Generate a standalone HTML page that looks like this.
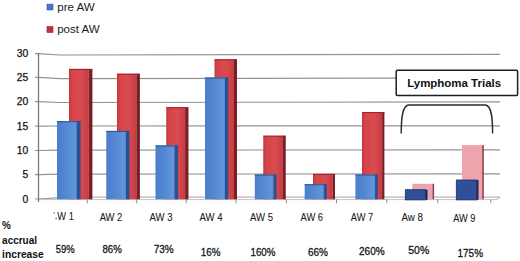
<!DOCTYPE html>
<html><head><meta charset="utf-8"><style>
html,body{margin:0;padding:0;background:#fff;width:520px;height:261px;overflow:hidden}
svg{display:block}
text{font-family:"Liberation Sans",sans-serif;fill:#111}
.yl{font-size:10.3px;fill:#111;stroke:#111;stroke-width:0.25px}
.xl{font-size:10.3px;fill:#1a1a1a;stroke:#1a1a1a;stroke-width:0.08px}
.pl{font-size:11px;fill:#151515;stroke:#151515;stroke-width:0.3px}
.bl{font-size:11.4px;font-weight:bold;fill:#111}
.lg{font-size:10.8px;fill:#1a1a1a}
.ly{font-size:11.6px;font-weight:bold;fill:#111}
</style></head><body>
<svg width="520" height="261" viewBox="0 0 520 261">
<defs>
<linearGradient id="gb" x1="0" x2="1" y1="0" y2="0">
<stop offset="0" stop-color="#4a7ecb"/><stop offset="0.5" stop-color="#5589d3"/><stop offset="0.9" stop-color="#6096dc"/><stop offset="1" stop-color="#5088d2"/>
</linearGradient>
<linearGradient id="gr" x1="0" x2="1" y1="0" y2="0">
<stop offset="0" stop-color="#c4363f"/><stop offset="0.15" stop-color="#d4444a"/><stop offset="0.6" stop-color="#da4b4f"/><stop offset="1" stop-color="#c43c43"/>
</linearGradient>
</defs>
<polyline points="35,53.6 38.5,53.6 60,55 500,54.3" fill="none" stroke="#929292" stroke-width="1.2"/>
<polyline points="35,77.4 38.5,77.4 60,78.7 500,77.9" fill="none" stroke="#929292" stroke-width="1.2"/>
<polyline points="35,101.7 38.5,101.7 60,102.5 500,101.9" fill="none" stroke="#929292" stroke-width="1.2"/>
<polyline points="35,126.2 38.5,126.2 60,126 500,125.8" fill="none" stroke="#929292" stroke-width="1.2"/>
<polyline points="35,150.5 38.5,150.5 60,150.2 500,149.8" fill="none" stroke="#929292" stroke-width="1.2"/>
<polyline points="35,174.7 38.5,174.7 60,174.2 500,173.8" fill="none" stroke="#929292" stroke-width="1.2"/>
<polyline points="35,199 38.5,199 57,197.8" fill="none" stroke="#9a9a9a" stroke-width="1.2"/>
<line x1="57" y1="197.1" x2="500" y2="197.1" stroke="#a4a4a4" stroke-width="1"/>
<line x1="38.5" y1="199.6" x2="497" y2="199.6" stroke="#c4c4c4" stroke-width="1"/>
<polyline points="497,199.6 500,197.1" fill="none" stroke="#b0b0b0" stroke-width="1"/>
<line x1="38.5" y1="53" x2="38.5" y2="202" stroke="#7a7a7a" stroke-width="1.3"/>
<line x1="87.3" y1="199.3" x2="87.3" y2="203.3" stroke="#8a8a8a" stroke-width="1"/>
<line x1="136.7" y1="199.3" x2="136.7" y2="203.3" stroke="#8a8a8a" stroke-width="1"/>
<line x1="186.2" y1="199.3" x2="186.2" y2="203.3" stroke="#8a8a8a" stroke-width="1"/>
<line x1="236" y1="199.3" x2="236" y2="203.3" stroke="#8a8a8a" stroke-width="1"/>
<line x1="286.4" y1="199.3" x2="286.4" y2="203.3" stroke="#8a8a8a" stroke-width="1"/>
<line x1="336.5" y1="199.3" x2="336.5" y2="203.3" stroke="#8a8a8a" stroke-width="1"/>
<line x1="386.8" y1="199.3" x2="386.8" y2="203.3" stroke="#8a8a8a" stroke-width="1"/>
<line x1="437.8" y1="199.3" x2="437.8" y2="203.3" stroke="#8a8a8a" stroke-width="1"/>
<line x1="490.8" y1="199.3" x2="490.8" y2="203.3" stroke="#8a8a8a" stroke-width="1"/>
<rect x="69" y="68.9" width="19.6" height="130.4" fill="url(#gr)"/><rect x="88.6" y="68.9" width="3.8" height="130.4" fill="#7c1c24"/><rect x="69" y="68.9" width="23.4" height="1" fill="#98262e"/>
<rect x="117" y="73.7" width="19.35" height="125.6" fill="url(#gr)"/><rect x="136.35" y="73.7" width="3.55" height="125.6" fill="#7c1c24"/><rect x="117" y="73.7" width="22.9" height="1" fill="#98262e"/>
<rect x="166.25" y="107.2" width="18.9" height="92.1" fill="url(#gr)"/><rect x="185.15" y="107.2" width="3.3" height="92.1" fill="#7c1c24"/><rect x="166.25" y="107.2" width="22.2" height="1" fill="#98262e"/>
<rect x="214.5" y="59.3" width="19.45" height="140" fill="url(#gr)"/><rect x="233.95" y="59.3" width="3.05" height="140" fill="#7c1c24"/><rect x="214.5" y="59.3" width="22.5" height="1" fill="#98262e"/>
<rect x="263.25" y="135.7" width="19.7" height="63.6" fill="url(#gr)"/><rect x="282.95" y="135.7" width="2.8" height="63.6" fill="#7c1c24"/><rect x="263.25" y="135.7" width="22.5" height="1" fill="#98262e"/>
<rect x="313" y="173.9" width="19.45" height="25.4" fill="url(#gr)"/><rect x="332.45" y="173.9" width="2.55" height="25.4" fill="#7c1c24"/><rect x="313" y="173.9" width="22" height="1" fill="#98262e"/>
<rect x="362" y="112" width="20.1" height="87.3" fill="url(#gr)"/><rect x="382.1" y="112" width="2.3" height="87.3" fill="#7c1c24"/><rect x="362" y="112" width="22.4" height="1" fill="#98262e"/>
<rect x="412.3" y="183.8" width="20.2" height="15.5" fill="#eda4ac"/>
<rect x="432.5" y="183.8" width="1.6" height="15.5" fill="#8c3c46"/>
<rect x="462" y="145.1" width="20.2" height="54.2" fill="#eda4ac"/>
<rect x="482.2" y="145.1" width="1.6" height="54.2" fill="#8c3c46"/>
<rect x="57" y="121.2" width="19.9" height="78.1" fill="url(#gb)"/><rect x="76.9" y="121.2" width="3.7" height="78.1" fill="#2a5192"/><rect x="57" y="121.2" width="23.6" height="1" fill="#2c5295"/>
<rect x="106.25" y="130.9" width="19.72" height="68.4" fill="url(#gb)"/><rect x="125.97" y="130.9" width="3.53" height="68.4" fill="#2a5192"/><rect x="106.25" y="130.9" width="23.25" height="1" fill="#2c5295"/>
<rect x="155.5" y="145.45" width="19.24" height="53.85" fill="url(#gb)"/><rect x="174.74" y="145.45" width="3.36" height="53.85" fill="#2a5192"/><rect x="155.5" y="145.45" width="22.6" height="1" fill="#2c5295"/>
<rect x="205" y="77.55" width="20.01" height="121.75" fill="url(#gb)"/><rect x="225.01" y="77.55" width="3.19" height="121.75" fill="#2a5192"/><rect x="205" y="77.55" width="23.2" height="1" fill="#2c5295"/>
<rect x="254.8" y="174.55" width="18.78" height="24.75" fill="url(#gb)"/><rect x="273.58" y="174.55" width="3.02" height="24.75" fill="#2a5192"/><rect x="254.8" y="174.55" width="21.8" height="1" fill="#2c5295"/>
<rect x="304.7" y="184.25" width="19.25" height="15.05" fill="url(#gb)"/><rect x="323.95" y="184.25" width="2.85" height="15.05" fill="#2a5192"/><rect x="304.7" y="184.25" width="22.1" height="1" fill="#2c5295"/>
<rect x="355.4" y="174.55" width="19.72" height="24.75" fill="url(#gb)"/><rect x="375.12" y="174.55" width="2.68" height="24.75" fill="#2a5192"/><rect x="355.4" y="174.55" width="22.4" height="1" fill="#2c5295"/>
<rect x="405.3" y="189.7" width="20.4" height="10.2" fill="#2f4f98" stroke="#1c2f66" stroke-width="0.8"/>
<rect x="425.7" y="189.7" width="1.8" height="10.2" fill="#1a2858"/>
<rect x="456.3" y="180" width="20.4" height="19.9" fill="#2f4f98" stroke="#1c2f66" stroke-width="0.8"/>
<rect x="476.7" y="180" width="1.8" height="19.9" fill="#1a2858"/>
<text x="28.2" y="57.2" text-anchor="end" class="yl">30</text>
<text x="28.2" y="81" text-anchor="end" class="yl">25</text>
<text x="28.2" y="105.3" text-anchor="end" class="yl">20</text>
<text x="28.2" y="129.8" text-anchor="end" class="yl">15</text>
<text x="28.2" y="154.1" text-anchor="end" class="yl">10</text>
<text x="28.2" y="178.3" text-anchor="end" class="yl">5</text>
<text x="28.2" y="202.6" text-anchor="end" class="yl">0</text>
<text x="57.3" y="219.9" textLength="16.5" lengthAdjust="spacingAndGlyphs" class="xl">W 1</text>
<text x="99.7" y="220.6" textLength="22.6" lengthAdjust="spacingAndGlyphs" class="xl">AW 2</text>
<text x="149.5" y="220.7" textLength="23" lengthAdjust="spacingAndGlyphs" class="xl">AW 3</text>
<text x="199.5" y="220.7" textLength="23" lengthAdjust="spacingAndGlyphs" class="xl">AW 4</text>
<text x="250" y="220.8" textLength="23" lengthAdjust="spacingAndGlyphs" class="xl">AW 5</text>
<text x="300.5" y="220.8" textLength="22.5" lengthAdjust="spacingAndGlyphs" class="xl">AW 6</text>
<text x="350.8" y="221.1" textLength="22.4" lengthAdjust="spacingAndGlyphs" class="xl">AW 7</text>
<text x="401.5" y="221.1" textLength="21.5" lengthAdjust="spacingAndGlyphs" class="xl">Aw 8</text>
<text x="453.2" y="221.9" textLength="22.2" lengthAdjust="spacingAndGlyphs" class="xl">AW 9</text>
<rect x="53.7" y="212.2" width="1.1" height="1.3" fill="#555"/>
<rect x="55.6" y="217.8" width="1.1" height="1.4" fill="#444"/>
<text x="55.7" y="252.6" textLength="18.9" lengthAdjust="spacingAndGlyphs" class="pl">59%</text>
<text x="102.5" y="252.6" textLength="19.3" lengthAdjust="spacingAndGlyphs" class="pl">86%</text>
<text x="153.75" y="252.5" textLength="20" lengthAdjust="spacingAndGlyphs" class="pl">73%</text>
<text x="200.75" y="255.5" textLength="19.75" lengthAdjust="spacingAndGlyphs" class="pl">16%</text>
<text x="250.5" y="255.5" textLength="25" lengthAdjust="spacingAndGlyphs" class="pl">160%</text>
<text x="308" y="255.5" textLength="20" lengthAdjust="spacingAndGlyphs" class="pl">66%</text>
<text x="359" y="254.8" textLength="25.6" lengthAdjust="spacingAndGlyphs" class="pl">260%</text>
<text x="408.3" y="253.8" textLength="20.9" lengthAdjust="spacingAndGlyphs" class="pl">50%</text>
<text x="457.5" y="257" textLength="25.5" lengthAdjust="spacingAndGlyphs" class="pl">175%</text>
<text x="2.1" y="229" textLength="8.8" lengthAdjust="spacingAndGlyphs" class="bl">%</text>
<text x="2.1" y="243.7" textLength="34.9" lengthAdjust="spacingAndGlyphs" class="bl">accrual</text>
<text x="2.1" y="258.2" textLength="41.6" lengthAdjust="spacingAndGlyphs" class="bl">increase</text>
<rect x="47" y="4.1" width="6" height="5.9" fill="#4676c4" stroke="#2f5a9e" stroke-width="0.6"/>
<rect x="47" y="26.6" width="6" height="5.9" fill="#c42e3e" stroke="#941c2a" stroke-width="0.6"/>
<text x="57.2" y="10.7" textLength="37.6" lengthAdjust="spacingAndGlyphs" class="lg">pre AW</text>
<text x="57.2" y="32.9" textLength="42.5" lengthAdjust="spacingAndGlyphs" class="lg">post AW</text>
<rect x="396.2" y="70.3" width="121.4" height="25.2" rx="1.2" fill="#fff" stroke="#1e1e1e" stroke-width="1.5"/>
<text x="407.2" y="87" textLength="93.9" lengthAdjust="spacingAndGlyphs" class="ly">Lymphoma Trials</text>
<path d="M401.2,133.5 C401.2,120 402,105 409,105 L485,105 C492,105 492.6,120 492.6,133.5" fill="none" stroke="#2a2a2a" stroke-width="1.4"/>
</svg>
</body></html>
